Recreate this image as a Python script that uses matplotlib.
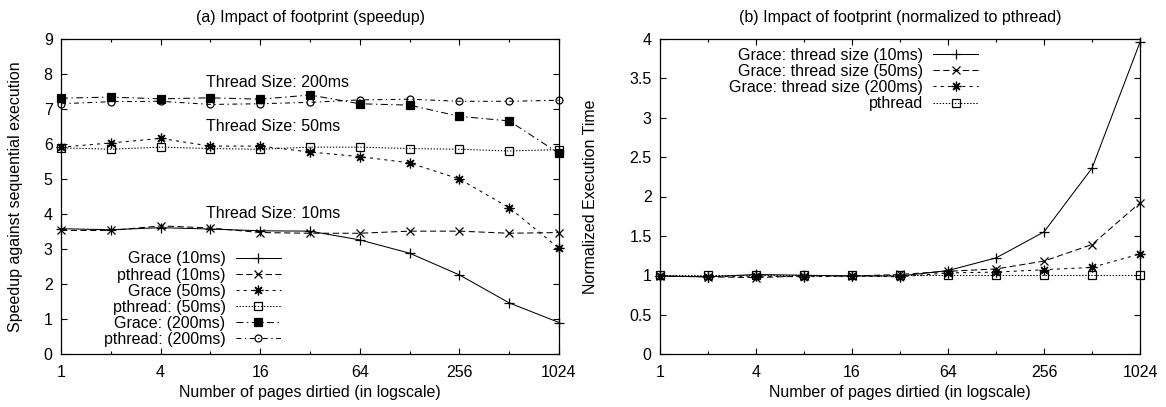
import matplotlib
matplotlib.use("Agg")
import matplotlib.pyplot as plt
from matplotlib.ticker import FixedLocator, NullFormatter

plt.rcParams["font.family"] = ["Liberation Sans", "DejaVu Sans"]
plt.rcParams["lines.scale_dashes"] = False

# pages dirtied
pages = [1, 2, 4, 8, 16, 32, 64, 128, 256, 512, 1024]
major_ticks = [1, 4, 16, 64, 256, 1024]
minor_ticks = [2, 8, 32, 128, 512]

# (a) speedup against sequential execution
grace_10 = [3.58, 3.55, 3.61, 3.57, 3.52, 3.51, 3.26, 2.88, 2.26, 1.46, 0.90]
pthread_10 = [3.53, 3.53, 3.66, 3.60, 3.47, 3.45, 3.45, 3.51, 3.51, 3.45, 3.47]
grace_50 = [5.91, 6.03, 6.16, 5.94, 5.94, 5.77, 5.64, 5.46, 5.00, 4.18, 3.02]
pthread_50 = [5.89, 5.85, 5.91, 5.87, 5.85, 5.91, 5.91, 5.87, 5.85, 5.80, 5.84]
grace_200 = [7.31, 7.34, 7.29, 7.32, 7.28, 7.40, 7.15, 7.11, 6.79, 6.66, 5.73]
pthread_200 = [7.15, 7.21, 7.22, 7.13, 7.15, 7.19, 7.26, 7.28, 7.22, 7.22, 7.25]

# (b) execution time normalized to pthread
norm_grace_10 = [0.99, 0.98, 1.01, 1.00, 0.99, 0.99, 1.06, 1.22, 1.55, 2.36, 3.96]
norm_grace_50 = [0.99, 0.98, 0.97, 0.99, 0.99, 1.01, 1.05, 1.08, 1.18, 1.39, 1.92]
norm_grace_200 = [0.99, 0.98, 0.99, 0.98, 0.99, 0.98, 1.03, 1.04, 1.07, 1.10, 1.27]
norm_pthread = [1.00, 1.00, 1.00, 1.00, 1.00, 1.00, 1.00, 1.00, 1.00, 1.00, 1.00]

FS = 11.5
LW = 0.75
ASTER = (8, 2, 0)

# gnuplot-ish line types
styles = {
    "solid": dict(ls="-", marker="+", ms=7),
    "dash": dict(ls=(0, (4.5, 2.5)), marker="x", ms=5.5),
    "short": dict(ls=(0, (2.2, 3)), marker=ASTER, ms=7),
    "dot": dict(ls=(0, (1, 1.2)), marker="s", ms=5.5, mfc="none"),
    "dashdot": dict(ls=(0, (5, 2.5, 1, 2.5)), marker="s", ms=5.5),
    "dashdot2": dict(ls=(0, (3.5, 2.5, 1, 2.5)), marker="o", ms=5, mfc="none"),
}


def setup_axes(ax, ymax, ystep, ylabel, title, ylabel_x):
    ax.set_xscale("log", base=2)
    ax.set_xlim(1, 1024)
    ax.set_ylim(0, ymax)
    ax.xaxis.set_major_locator(FixedLocator(major_ticks))
    ax.xaxis.set_minor_locator(FixedLocator(minor_ticks))
    ax.xaxis.set_minor_formatter(NullFormatter())
    ax.set_xticklabels([str(t) for t in major_ticks])
    yt = [i * ystep for i in range(int(round(ymax / ystep)) + 1)]
    ax.set_yticks(yt)
    ax.set_yticklabels(["%g" % v for v in yt])
    ax.tick_params(which="both", direction="in", top=True, right=True,
                   labelsize=FS, width=0.8)
    ax.tick_params(axis="x", pad=8)
    ax.tick_params(axis="y", pad=6)
    ax.tick_params(which="major", length=4.5)
    ax.tick_params(which="minor", length=2.2)
    for s in ax.spines.values():
        s.set_linewidth(0.9)
    ax.set_xlabel("Number of pages dirtied (in logscale)", fontsize=FS)
    ax.set_ylabel(ylabel, fontsize=FS)
    ax.xaxis.set_label_coords(0.5, -0.1)
    # anchor is the right edge of the rotated label
    ax.yaxis.set_label_coords(ylabel_x, 0.5)
    ax.set_title(title, fontsize=FS, pad=12)


def draw(ax, y, label, style):
    kw = dict(styles[style])
    ax.plot(pages, y, color="black", lw=LW, mew=0.9, label=label,
            clip_on=False, **kw)


def add_legend(ax, loc, anchor):
    ax.legend(loc=loc, bbox_to_anchor=anchor, frameon=False,
              markerfirst=False, fontsize=FS, labelspacing=0.07,
              handlelength=2.8, handletextpad=0.65, borderpad=0,
              borderaxespad=0)


fig = plt.figure(figsize=(11.66, 4.07), dpi=100)
ax1 = fig.add_axes([61 / 1166, 53 / 407, 498 / 1166, 315 / 407])
ax2 = fig.add_axes([660 / 1166, 53 / 407, 480 / 1166, 315 / 407])

draw(ax1, grace_10, "Grace (10ms)", "solid")
draw(ax1, pthread_10, "pthread (10ms)", "dash")
draw(ax1, grace_50, "Grace (50ms)", "short")
draw(ax1, pthread_50, "pthread: (50ms)", "dot")
draw(ax1, grace_200, "Grace: (200ms)", "dashdot")
draw(ax1, pthread_200, "pthread: (200ms)", "dashdot2")
setup_axes(ax1, 9, 1, "Speedup against sequential execution",
           "(a) Impact of footprint (speedup)", -0.076)
ax1.text(7.57, 7.77, "Thread Size: 200ms", fontsize=FS, va="center")
ax1.text(7.57, 6.50, "Thread Size: 50ms", fontsize=FS, va="center")
ax1.text(7.57, 4.02, "Thread Size: 10ms", fontsize=FS, va="center")
add_legend(ax1, "lower right", (0.441, 0.022))

draw(ax2, norm_grace_10, "Grace: thread size (10ms)", "solid")
draw(ax2, norm_grace_50, "Grace: thread size (50ms)", "dash")
draw(ax2, norm_grace_200, "Grace: thread size (200ms)", "short")
draw(ax2, norm_pthread, "pthread", "dot")
setup_axes(ax2, 4, 0.5, "Normalized Execution Time",
           "(b) Impact of footprint (normalized to pthread)", -0.129)
add_legend(ax2, "upper right", (0.6625, 0.972))

fig.savefig("out.png", dpi=100)
